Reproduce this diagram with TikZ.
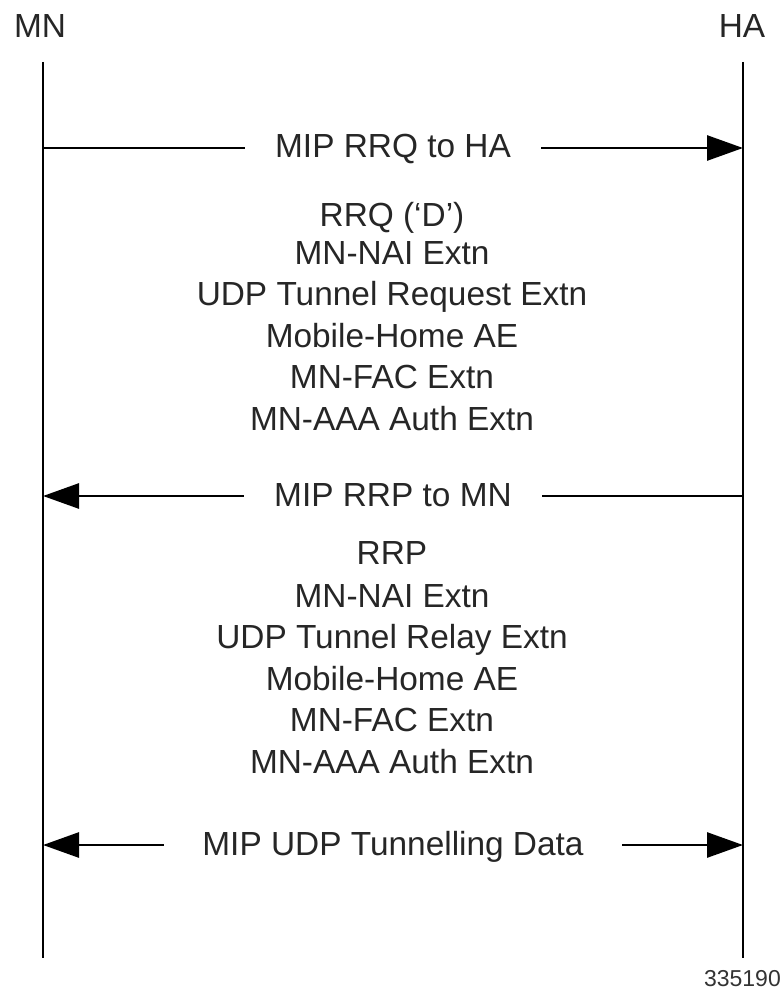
\documentclass[tikz,border=0pt]{standalone}
\usepackage{fontspec}
\setmainfont{Liberation Sans}
\usetikzlibrary{arrows.meta}
\begin{document}
\begin{tikzpicture}[x=1pt,y=-1pt,
  lifeline/.style={line width=2.8pt},
  msg/.style={line width=2.8pt},
  bigtip/.style={-{Triangle[length=36pt,width=25pt]}},
  txt/.style={font=\fontsize{33.4}{40}\selectfont, inner sep=0pt, anchor=base, text=black!85},
  lbl/.style={txt, fill=white, inner xsep=30pt, inner ysep=0pt, midway, yshift=-10pt},
  num/.style={font=\fontsize{23}{26}\selectfont, inner sep=0pt, anchor=base east, text=black!80}
]
\useasboundingbox (0,0) rectangle (783,992);

% headers
\node[txt] (mn) at (40,38) {MN};
\node[txt] (ha) at (742,38) {HA};

% lifelines
\coordinate (mnT) at (43,62);
\coordinate (mnB) at (43,958);
\coordinate (haT) at (743,62);
\coordinate (haB) at (743,958);
\draw[lifeline] (mnT) -- (mnB);
\draw[lifeline] (haT) -- (haB);

% messages
\coordinate (m1a) at (43,148);  \coordinate (m1b) at (743,148);
\coordinate (m2a) at (743,496); \coordinate (m2b) at (43,496);
\coordinate (m3a) at (43,845);  \coordinate (m3b) at (743,845);

\draw[msg, bigtip] (m1a) -- (m1b) node[lbl] (l1) {MIP RRQ to HA};
\draw[msg, bigtip] (m2a) -- (m2b) node[lbl] (l2) {MIP RRP to MN};
\draw[msg, {Triangle[length=36pt,width=25pt]}-{Triangle[length=36pt,width=25pt]}] (m3a) -- (m3b) node[lbl, inner xsep=38pt] (l3) {MIP UDP Tunnelling Data};

% block 1
\node[txt] (r1) at (392,226) {RRQ (‘D’)};
\node[txt] (r2) at (392,264) {MN-NAI Extn};
\node[txt] (r3) at (392,305.5) {UDP Tunnel Request Extn};
\node[txt] (r4) at (392,347) {Mobile-Home AE};
\node[txt] (r5) at (392,388) {MN-FAC Extn};
\node[txt] (r6) at (392,430) {MN-AAA Auth Extn};

% block 2
\node[txt] (p1) at (392,564.5) {RRP};
\node[txt] (p2) at (392,607) {MN-NAI Extn};
\node[txt] (p3) at (392,648.5) {UDP Tunnel Relay Extn};
\node[txt] (p4) at (392,690) {Mobile-Home AE};
\node[txt] (p5) at (392,731.5) {MN-FAC Extn};
\node[txt] (p6) at (392,773) {MN-AAA Auth Extn};

% figure number
\node[num] (fig) at (781,986) {335190};
\end{tikzpicture}
\end{document}
